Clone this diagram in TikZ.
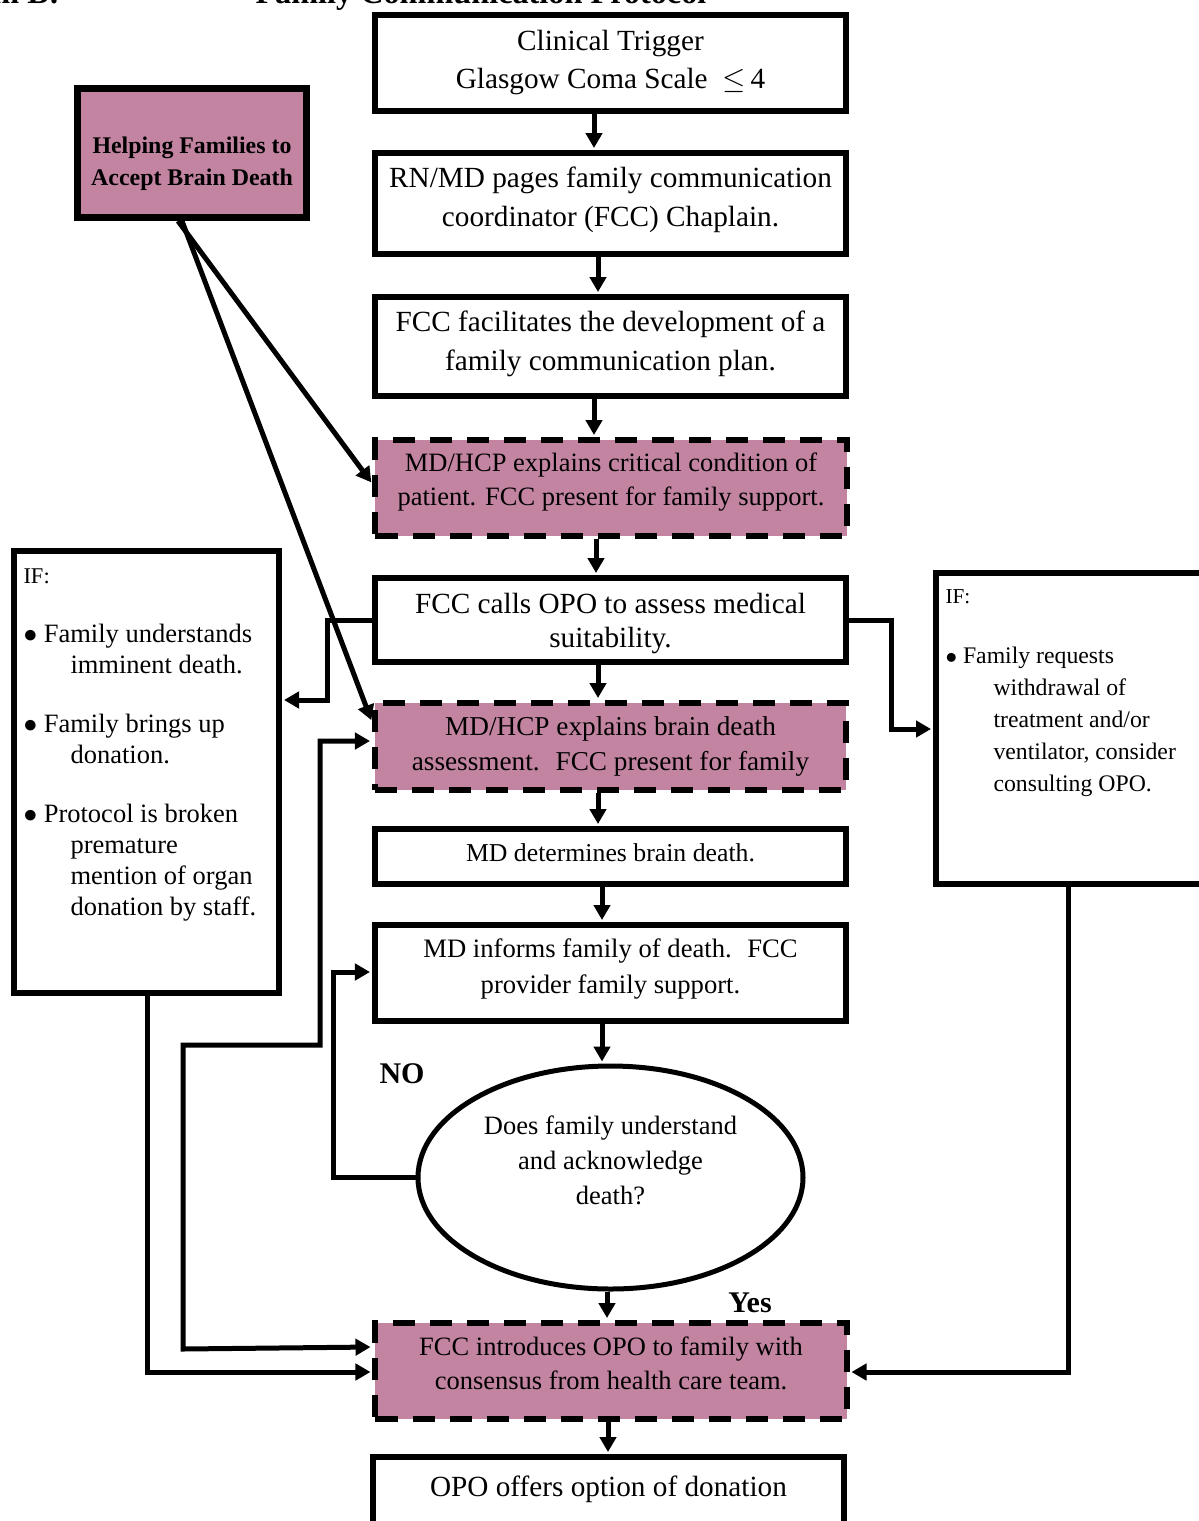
\documentclass[tikz,border=0pt]{standalone}
\usepackage{fontspec}
\setmainfont{Liberation Serif}
\usetikzlibrary{arrows.meta,shapes.geometric,calc}
\definecolor{pinkfill}{RGB}{195,132,162}
\newcommand{\fsz}[2]{\fontsize{#1}{#2}\selectfont}
\newcommand{\bul}{$\bullet$\ }
\begin{document}
\begin{tikzpicture}[x=0.4pt,y=-0.4pt,
  box/.style={draw,line width=2.4pt,minimum width=188.4pt,inner sep=0pt},
  pinkbox/.style={box,fill=pinkfill,dash pattern=on 8.8pt off 6pt},
  txt/.style={inner sep=0pt,align=center},
  arr/.style={line width=2pt,shorten >=0.8pt,-{Triangle[length=6pt,width=6.5pt]}},
  arrboth/.style={line width=2pt,shorten >=0.8pt,shorten <=0.8pt,{Triangle[length=6pt,width=6.5pt]}-{Triangle[length=6pt,width=6.5pt]}},
  lbl/.style={font=\bfseries\fsz{12}{14},inner sep=0pt}]
\useasboundingbox (0,0) rectangle (1199,1521);

% title (clipped at the top edge, as in the reference)
\node[font=\bfseries\fsz{12.9}{15},anchor=base east,inner sep=0pt] (titleA) at (60,3) {Diagram B:};
\node[font=\bfseries\fsz{12.9}{15},anchor=base west,inner sep=0pt] (titleB) at (255,3) {Family Communication Protocol};

% main column boxes
\node[box,minimum height=38.4pt] (b1) at (610.5,63) {};
\node[txt,font=\fsz{11.7}{15.2}] (b1t) at (b1) {Clinical Trigger\\Glasgow Coma Scale \ $\leq$\,4};
\node[box,minimum height=40.4pt] (b2) at (610.5,203.5) {};
\node[txt,font=\fsz{11.7}{15.6}] (b2t) at ([yshift=1.6pt]b2.center) {RN/MD pages family communication\\coordinator (FCC) Chaplain.};
\node[box,minimum height=39.6pt] (b3) at (610.5,346.5) {};
\node[txt,font=\fsz{11.7}{15.6}] (b3t) at ([yshift=1.2pt]b3.center) {FCC facilitates the development of a\\family communication plan.};
\node[pinkbox,minimum height=38.4pt] (b4) at (611,488) {};
\node[txt,font=\fsz{10.6}{13.6}] (b4t) at ([yshift=2.4pt]b4.center) {MD/HCP explains critical condition of\\patient. FCC present for family support.};
\node[box,minimum height=33.6pt] (b5) at (610.5,620) {};
\node[txt,font=\fsz{11.7}{13.6}] (b5t) at ([yshift=-1.2pt]b5.center) {FCC calls OPO to assess medical\\suitability.};
\node[pinkbox,minimum height=34.8pt] (b6) at (610.5,746.5) {};
\node[txt,font=\fsz{10.9}{14}] (b6t) at (b6) {MD/HCP explains brain death\\assessment.~ FCC present for family};
\node[box,minimum height=22pt] (b7) at (610.5,856.5) {};
\node[txt,font=\fsz{10.3}{13}] (b7t) at ([yshift=1.6pt]b7.center) {MD determines brain death.};
\node[box,minimum height=38.4pt] (b8) at (610.5,973) {};
\node[txt,font=\fsz{10.65}{14.4}] (b8t) at ([yshift=1.6pt]b8.center) {MD informs family of death.~ FCC\\provider family support.};
\node[draw,ellipse,line width=2pt,minimum width=154pt,minimum height=89.2pt,inner sep=0pt] (ell) at (610.5,1177.5) {};
\node[txt,font=\fsz{10.6}{14}] (ellt) at ([yshift=6.8pt]ell.center) {Does family understand\\and acknowledge\\death?};
\node[pinkbox,minimum height=38.4pt] (b9) at (611,1371) {};
\node[txt,font=\fsz{10.6}{13.6}] (b9t) at ([yshift=3.2pt]b9.center) {FCC introduces OPO to family with\\consensus from health care team.};
\node[box,minimum height=36.8pt] (b10) at (608.5,1503) {};
\node[txt,font=\fsz{11.7}{13.6}] (b10t) at (608.5,1489) {OPO offers option of donation};

% side boxes
\node[draw,line width=2.8pt,fill=pinkfill,minimum width=91.6pt,minimum height=51.6pt,inner sep=0pt] (help) at (192,153) {};
\node[txt,font=\bfseries\fsz{9.55}{12.8}] (helpt) at ([yshift=-4.2pt]help.center) {Helping Families to\\Accept Brain Death};
\node[draw,line width=2.4pt,minimum width=106pt,minimum height=176.8pt,inner sep=0pt] (lif) at (146.5,772) {};
\node[anchor=north west,inner sep=0pt,align=left,font=\fsz{10.6}{12.4}] (liftext) at (23,568) {{\fsz{9}{12.4}IF:}\\[11.2pt]
\bul Family understands\\ \hspace*{18.8pt}imminent death.\\[11.2pt]
\bul Family brings up\\ \hspace*{18.8pt}donation.\\[11.2pt]
\bul Protocol is broken\\ \hspace*{18.8pt}premature\\ \hspace*{18.8pt}mention of organ\\ \hspace*{18.8pt}donation by staff.};
\node[draw,line width=2.4pt,minimum width=108.4pt,minimum height=124.4pt,inner sep=0pt] (rif) at (1071.5,728.5) {};
\node[anchor=north west,inner sep=0pt,align=left,font=\fsz{9.5}{12.8}] (riftext) at (945,589) {{\fsz{8.5}{12.8}IF:}\\[11.2pt]
\bul Family requests\\ \hspace*{19.2pt}withdrawal of\\ \hspace*{19.2pt}treatment and/or\\ \hspace*{19.2pt}ventilator, consider\\ \hspace*{19.2pt}consulting OPO.};

% labels
\node[lbl] (no) at (402,1074) {NO};
\node[lbl] (yes) at (750,1303) {Yes};

% vertical flow
\draw[arr] (b1.south -| 594,0) -- (b2.north -| 594,0);
\draw[arr] (b2.south -| 598,0) -- (b3.north -| 598,0);
\draw[arr] (b3.south -| 594,0) -- (b4.north -| 594,0);
\draw[arr] (b4.south -| 596,0) -- (b5.north -| 596,0);
\draw[arr] (b5.south -| 598,0) -- (b6.north -| 598,0);
\draw[arr] (b6.south -| 598,0) -- (b7.north -| 598,0);
\draw[arr] (b7.south -| 602,0) -- (b8.north -| 602,0);
\draw[arr] (b8.south -| 602,0) -- (ell.north -| 602,0);
\draw[arr] (ell.south -| 607,0) -- (b9.north -| 607,0);
\draw[arr] (b9.south -| 608,0) -- (b10.north -| 608,0);

% helping box connectors
\draw[arr] ([xshift=-5.6pt]help.south) -- (b4.west |- 0,484);
\draw[arr] ([xshift=-4pt]help.south) -- (b6.west |- 0,722);

% side connectors
\draw[arr] (b5.west) -- (327,620) |- (lif.east |- 0,700);
\draw[arr] (b5.east) -- (891,620) |- (rif.west |- 0,729);
\draw[arr] (ell.west) -| (333,972) -- (b8.west |- 0,972);
\draw[arrboth] (b6.west |- 0,741) -- (320,741) -- (320,1045) -- (183,1045) -- (183,1349) -- (b9.west |- 0,1347);
\draw[arr] (lif.south -| 147,0) |- (b9.west |- 0,1372);
\draw[arr] (rif.south -| 1068,0) |- (b9.east |- 0,1372);
\end{tikzpicture}
\end{document}
